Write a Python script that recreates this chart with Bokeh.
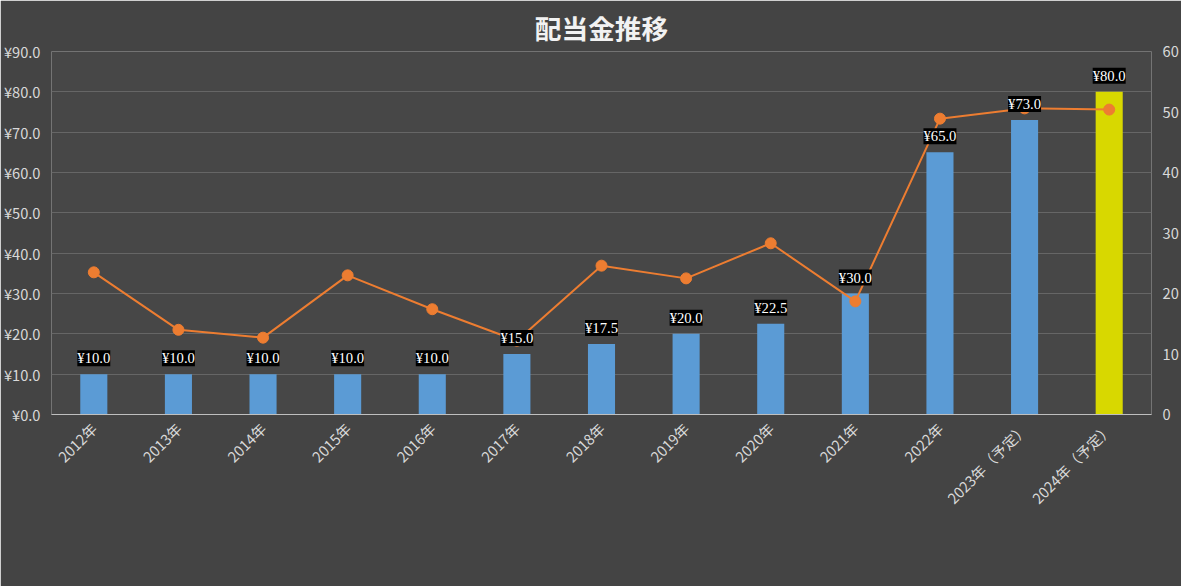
from bokeh.plotting import figure
from bokeh.models import (ColumnDataSource, Range1d, LinearAxis,
                          LabelSet, Legend, LegendItem, FixedTicker, CustomJSTickFormatter)
from bokeh.embed import file_html
from bokeh.resources import INLINE
from math import pi

years = ["2012年","2013年","2014年","2015年","2016年","2017年","2018年","2019年","2020年","2021年","2022年","2023年（予定）","2024年（予定）"]
dividend = [10.0,10.0,10.0,10.0,10.0,15.0,17.5,20.0,22.5,30.0,65.0,73.0,80.0]
payout = [23.5,14.0,12.7,23.0,17.4,12.2,24.6,22.5,28.3,18.7,48.9,50.6,50.4]
bar_colors = ["#5b9bd5"]*12 + ["#d8d800"]
labels = ["¥%.1f" % v for v in dividend]

src = ColumnDataSource(dict(x=years, d=dividend, p=payout, c=bar_colors, lab=labels))

FONT = "Noto Sans CJK JP"
p = figure(x_range=years, y_range=Range1d(0, 90), frame_width=1100, frame_height=363,
           output_backend="svg", toolbar_location=None,
           background_fill_color="#474747", border_fill_color="#444444",
           outline_line_color=None, min_border_left=10, min_border_right=10, min_border_top=10)
p.title.text = "配当金推移"
p.title.align = "center"
p.title.text_color = "#f2f2f2"
p.title.text_font = FONT
p.title.text_font_size = "20pt"

p.extra_y_ranges = {"r": Range1d(0, 60)}
bars = p.vbar(x="x", top="d", width=0.32, source=src, fill_color="c", line_color=None)
line = p.line(x="x", y="p", source=src, y_range_name="r", line_color="#ed7d31", line_width=2)
pts = p.scatter(x="x", y="p", source=src, y_range_name="r", size=11, fill_color="#ed7d31", line_color="#ed7d31")

p.add_layout(LabelSet(x="x", y="d", text="lab", source=src, y_offset=8, text_align="center",
                      text_color="white", text_font_size="11pt", text_font=FONT,
                      background_fill_color="black", border_line_color=None))

ra = LinearAxis(y_range_name="r", ticker=FixedTicker(ticks=list(range(0, 61, 10))))
p.add_layout(ra, "right")
p.yaxis[0].ticker = FixedTicker(ticks=list(range(0, 91, 10)))
p.yaxis[0].formatter = CustomJSTickFormatter(code="return '¥' + tick.toFixed(1);")
for ax in p.yaxis + p.xaxis:
    ax.axis_line_color = None
    ax.major_tick_line_color = None
    ax.minor_tick_line_color = None
    ax.major_label_text_color = "#d9d9d9"
    ax.major_label_text_font = FONT
    ax.major_label_text_font_size = "11pt"
p.xaxis.axis_line_color = "#bfbfbf"
p.xaxis.major_label_orientation = pi/4
p.xgrid.grid_line_color = None
p.ygrid.grid_line_color = "#666666"

leg = Legend(items=[LegendItem(label="配当金", renderers=[bars]),
                    LegendItem(label="配当性向", renderers=[line, pts])],
             orientation="horizontal", location=(440, 0), background_fill_alpha=0,
             border_line_color=None, label_text_color="#d9d9d9", label_text_font=FONT,
             label_text_font_size="12pt")
p.add_layout(leg, "below")

open("out.html", "w").write(file_html(p, INLINE))
